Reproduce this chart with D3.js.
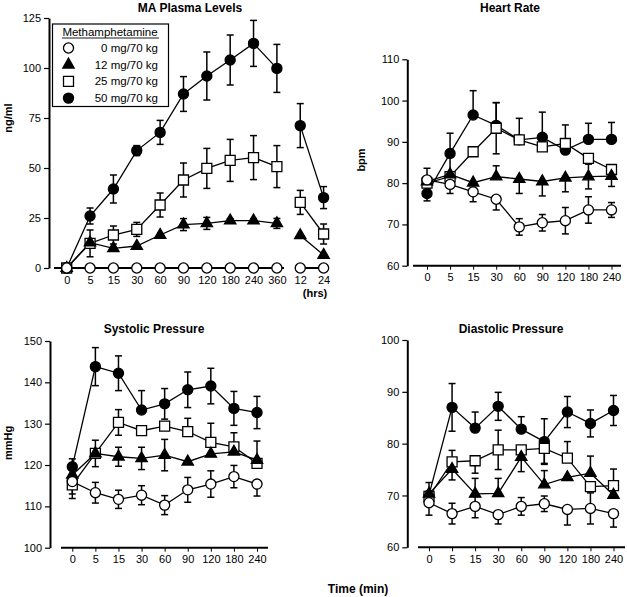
<!DOCTYPE html>
<html>
<head>
<meta charset="utf-8">
<script src="https://cdn.jsdelivr.net/npm/d3@7"></script>
<style>
  body { margin: 0; background: #fff; }
  svg text { font-family: "Liberation Sans", Arial, sans-serif; fill: #000; }
</style>
</head>
<body>
<svg id="chart" width="627" height="597"></svg>
<script>
// doses, legend order
const doseLabels = ["0 mg/70 kg", "12 mg/70 kg", "25 mg/70 kg", "50 mg/70 kg"];

// time points
const plasmaTimes = ["0", "5", "15", "30", "60", "90", "120", "180", "240", "360", "12", "24"];
const vitalTimes  = ["0", "5", "15", "30", "60", "90", "120", "180", "240"];

// y ticks
const plasmaTicks = [0, 25, 50, 75, 100, 125];
const hrTicks     = [60, 70, 80, 90, 100, 110];
const sysTicks    = [100, 110, 120, 130, 140, 150];
const diaTicks    = [60, 70, 80, 90, 100];

// MA plasma levels (ng/ml), one row per dose
const plasmaMeans = [
  [0, 0, 0, 0, 0, 0, 0, 0, 0, 0, 0, 0],
  [0, 12.7, 9.8, 11, 16.5, 21.7, 22.3, 23.7, 23.7, 22.3, 16.3, 6.5],
  [0, 12.3, 16.5, 19.3, 31.5, 44, 49.8, 53.8, 55.2, 50.7, 32.8, 17],
  [0, 26, 39.5, 58.7, 67.8, 87, 96, 104, 112.3, 99.8, 71.2, 35.2]
];
const plasmaErrs = [
  [0, 0, 0, 0, 0, 0, 0, 0, 0, 0, 0, 0],
  [0, 0, 0, 0, 0, 3, 3, 1, 1, 2.5, 0, 0],
  [0, 6.7, 4.5, 3.5, 6, 8.5, 10, 10.5, 11, 10.5, 6, 5],
  [0, 4, 7, 2.5, 6, 8.7, 12, 12.5, 11.5, 12, 11, 5.5]
];

// heart rate (bpm)
const hrMeans = [
  [80.8, 79.7, 77.9, 76.1, 69.4, 70.4, 70.9, 73.5, 73.5],
  [80.4, 82.1, 80.1, 81.6, 81.0, 80.4, 81.3, 81.6, 81.7],
  [80.0, 81.6, 87.6, 93.3, 90.5, 88.8, 89.6, 86.0, 83.3],
  [77.5, 87.2, 96.5, 94.0, 90.5, 91.1, 88.0, 90.6, 90.6]
];
const hrErrs = [
  [2.8, 2.2, 2.4, 2.6, 2, 2, 3.2, 3.2, 1.8],
  [0, 0, 0, 2.6, 3.5, 3.5, 3.4, 3, 2.5],
  [0, 0, 0, 6.2, 5.2, 0, 4.5, 0, 0],
  [1.8, 4.9, 5.9, 5.5, 0, 6.1, 0, 3.9, 4.1]
];
// u = bar up only, d = down only, b = both
const hrSides = ["udddbbbbb", "bbbudddbb", "bbbbububb", "bbuubuuuu"];

// systolic pressure (mmHg)
const sysMeans = [
  [116.0, 113.3, 111.7, 112.7, 110.3, 114.0, 115.4, 117.2, 115.4],
  [117.6, 122.8, 122.0, 121.6, 122.4, 120.8, 122.7, 123.2, 121.2],
  [115.2, 122.8, 130.3, 128.3, 129.4, 128.1, 125.5, 124.4, 120.4],
  [119.6, 143.8, 142.2, 133.3, 134.8, 138.2, 139.1, 133.7, 132.7]
];
const sysErrs = [
  [3, 2.5, 2.2, 2.3, 2.3, 3, 3.2, 2.7, 2.9],
  [0, 0, 2.3, 2.7, 3.8, 0, 0, 0, 0],
  [3.3, 3.2, 3.1, 0, 0, 3.2, 4.6, 3.4, 5.4],
  [1.9, 4.6, 4.2, 4.7, 3.7, 4.3, 4.3, 4.1, 3.9]
];
const sysSides = ["dbbbbbbbd", "bbbbbbbbb", "dbbbbuuuu", "ubbubbbbb"];

// diastolic pressure (mmHg)
const diaMeans = [
  [68.6, 66.5, 67.9, 66.3, 67.9, 68.4, 67.3, 67.5, 66.5],
  [70.3, 75.1, 70.3, 70.4, 77.4, 72.1, 73.5, 74.3, 70.1],
  [69.8, 76.5, 76.7, 78.8, 78.8, 79.1, 77.2, 71.7, 71.9],
  [70.1, 87.0, 83.0, 87.2, 82.8, 80.4, 86.1, 83.9, 86.4]
];
const diaErrs = [
  [2.4, 2, 2.2, 1.8, 1.7, 1.5, 3, 3, 2.6],
  [0, 2.1, 3, 2.9, 2.8, 2.7, 0, 3.3, 0],
  [0, 2.2, 2.4, 3.8, 0, 2.9, 3.2, 0, 3.2],
  [2.4, 4.6, 3.1, 2.7, 2.4, 4.4, 3, 2.6, 2.9]
];
const diaSides = ["dbbdbbdbd", "bduudubub", "budbbdubu", "ubububbbb"];

var svg = d3.select("#chart");

// marker per dose: open circle, filled triangle, open square, filled circle
var symbols = [
  {type: d3.symbolCircle,   size: 80,  fill: "#fff"},
  {type: d3.symbolTriangle, size: 56,  fill: "#000"},
  {type: d3.symbolSquare,   size: 100, fill: "#fff"},
  {type: d3.symbolCircle,   size: 80,  fill: "#000"}
];

function marker(sel, s)
{
    sel.attr("d", d3.symbol().type(symbols[s].type).size(symbols[s].size))
       .attr("fill", symbols[s].fill)
       .attr("stroke", "#000")
       .attr("stroke-width", 1.3);
}

var panels = [
    {title: "MA Plasma Levels", titleX: 190, titleY: 12,
     yLabel: "ng/ml", yLabelX: 12, yLabelY: 118,
     times: plasmaTimes, means: plasmaMeans, errs: plasmaErrs, sides: null,
     yTicks: plasmaTicks, yDomain: [0, 125], yRange: [268, 18], axisX: 49,
     xRange: [66.7, 323.6], xAxisY: 268, xLines: [[54, 284], [295, 329]],
     runs: [[0, 10], [10, 12]]},
    {title: "Heart Rate", titleX: 510, titleY: 12,
     yLabel: "bpm", yLabelX: 365, yLabelY: 160,
     times: vitalTimes, means: hrMeans, errs: hrErrs, sides: hrSides,
     yTicks: hrTicks, yDomain: [60, 110], yRange: [265.7, 59.3], axisX: 407.3,
     xRange: [427, 611.5], xAxisY: 265.7, xLines: [[413, 621]],
     runs: [[0, 9]]},
    {title: "Systolic Pressure", titleX: 154, titleY: 333,
     yLabel: "mmHg", yLabelX: 12, yLabelY: 443,
     times: vitalTimes, means: sysMeans, errs: sysErrs, sides: sysSides,
     yTicks: sysTicks, yDomain: [100, 150], yRange: [547.7, 341], axisX: 50,
     xRange: [72.3, 257], xAxisY: 547.7, xLines: [[61, 268]],
     runs: [[0, 9]]},
    {title: "Diastolic Pressure", titleX: 511, titleY: 333,
     yLabel: null,
     times: vitalTimes, means: diaMeans, errs: diaErrs, sides: diaSides,
     yTicks: diaTicks, yDomain: [60, 100], yRange: [547.3, 340], axisX: 407.3,
     xRange: [429, 613.5], xAxisY: 547.3, xLines: [[418, 625]],
     runs: [[0, 9]]}
];

panels.forEach(drawPanel);

function drawPanel(p)
{
    var x = d3.scalePoint().domain(p.times).range(p.xRange);
    var y = d3.scaleLinear().domain(p.yDomain).range(p.yRange);
    var g = svg.append("g");

    //y axis
    var ya = g.append("g")
        .attr("transform", "translate(" + p.axisX + ",0)")
        .call(d3.axisLeft(y).tickValues(p.yTicks).tickSize(5).tickPadding(3).tickSizeOuter(0));
    ya.select(".domain").attr("stroke-width", 2);
    ya.selectAll(".tick line").attr("stroke-width", 1.2);
    ya.selectAll("text").style("font-size", "11px").attr("fill", "#000");

    //x axis: ticks from d3, thick base line drawn in pieces
    var xa = g.append("g")
        .attr("transform", "translate(0," + p.xAxisY + ")")
        .call(d3.axisBottom(x).tickSize(4).tickPadding(4));
    xa.select(".domain").remove();
    xa.selectAll(".tick line").attr("stroke-width", 1);
    xa.selectAll("text").style("font-size", "11px").attr("fill", "#000");
    p.xLines.forEach(function(l){
        g.append("line")
            .attr("x1", l[0]).attr("x2", l[1])
            .attr("y1", p.xAxisY).attr("y2", p.xAxisY)
            .attr("stroke", "#000").attr("stroke-width", 2);
    });

    //titles
    g.append("text")
        .attr("x", p.titleX).attr("y", p.titleY)
        .attr("text-anchor", "middle")
        .style("font-size", "12px").style("font-weight", "bold")
        .text(p.title);
    if (p.yLabel)
    {
        g.append("text")
            .attr("transform", "translate(" + p.yLabelX + "," + p.yLabelY + ") rotate(-90)")
            .attr("text-anchor", "middle")
            .style("font-size", "11px").style("font-weight", "bold")
            .text(p.yLabel);
    }

    var order = [3, 2, 1, 0];

    //error bars
    order.forEach(function(s){
        p.means[s].forEach(function(m, i){
            var e = p.errs[s][i];
            if (!e) return;
            var side = p.sides ? p.sides[s][i] : "b";
            var top = side != "d" ? m + e : m;
            var bot = side != "u" ? m - e : m;
            var cx = x(p.times[i]);
            g.append("line")
                .attr("x1", cx).attr("x2", cx)
                .attr("y1", y(top)).attr("y2", y(bot))
                .attr("stroke", "#000").attr("stroke-width", 1.5);
            [top, bot].forEach(function(v){
                if (v == m) return;
                g.append("line")
                    .attr("x1", cx - 3.5).attr("x2", cx + 3.5)
                    .attr("y1", y(v)).attr("y2", y(v))
                    .attr("stroke", "#000").attr("stroke-width", 1.5);
            });
        });
    });

    //lines, broken where the time axis breaks
    var line = d3.line()
        .x(function(d){ return x(d.t); })
        .y(function(d){ return y(d.v); });
    order.forEach(function(s){
        p.runs.forEach(function(r){
            var pts = [];
            for (var i = r[0]; i < r[1]; i++)
            {
                pts.push({t: p.times[i], v: p.means[s][i]});
            }
            g.append("path")
                .datum(pts)
                .attr("d", line)
                .attr("fill", "none")
                .attr("stroke", "#000")
                .attr("stroke-width", 1.3);
        });
    });

    //markers
    order.forEach(function(s){
        g.selectAll(null)
            .data(p.means[s])
            .enter().append("path")
            .attr("transform", function(d, i){ return "translate(" + x(p.times[i]) + "," + y(d) + ")"; })
            .call(marker, s);
    });
}

//(hrs) under the plasma break, shared time label
svg.append("text")
    .attr("x", 315).attr("y", 297)
    .attr("text-anchor", "middle")
    .style("font-size", "11px").style("font-weight", "bold")
    .text("(hrs)");
svg.append("text")
    .attr("x", 358).attr("y", 593)
    .attr("text-anchor", "middle")
    .style("font-size", "12px").style("font-weight", "bold")
    .text("Time (min)");

//legend
var lg = svg.append("g");
lg.append("rect")
    .attr("x", 52.5).attr("y", 24).attr("width", 116).attr("height", 82.5)
    .attr("fill", "#fff").attr("stroke", "#000").attr("stroke-width", 1.2);
lg.append("text")
    .attr("x", 110).attr("y", 36)
    .attr("text-anchor", "middle")
    .style("font-size", "11.5px")
    .text("Methamphetamine");
lg.append("line")
    .attr("x1", 62).attr("x2", 159)
    .attr("y1", 38).attr("y2", 38)
    .attr("stroke", "#000").attr("stroke-width", 0.9);
doseLabels.forEach(function(lbl, s){
    var ly = 48 + s * 16.7;
    lg.append("path")
        .attr("transform", "translate(68.5," + ly + ")")
        .call(marker, s);
    lg.append("text")
        .attr("x", 158).attr("y", ly + 4)
        .attr("text-anchor", "end")
        .style("font-size", "11.5px")
        .text(lbl);
});
</script>
</body>
</html>
